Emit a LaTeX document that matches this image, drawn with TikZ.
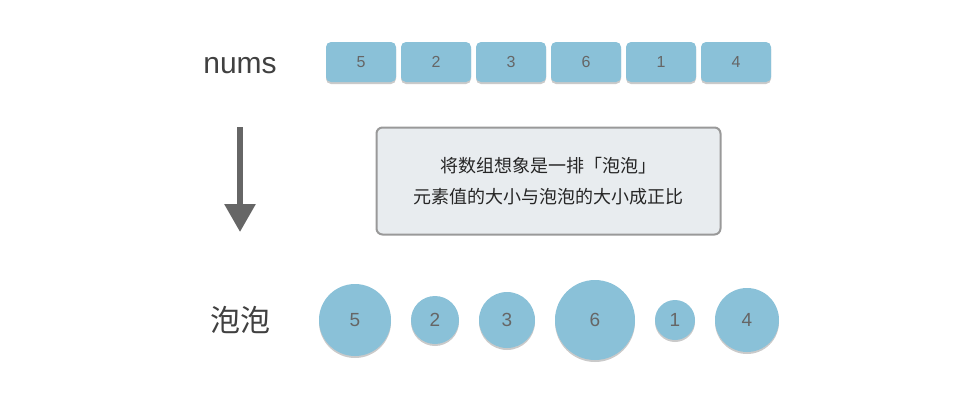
\documentclass[tikz,border=0pt]{standalone}
\usepackage{fontspec}
\setmainfont{Liberation Sans}
\newfontfamily\cjk{Noto Sans CJK SC}
\usepackage{tikz}
\usetikzlibrary{arrows.meta,shadows}

\definecolor{bubble}{HTML}{8AC1D8}
\definecolor{numtext}{HTML}{666666}
\definecolor{notefill}{HTML}{E8ECEF}
\definecolor{noteline}{HTML}{999999}
\definecolor{arrowgray}{HTML}{666666}

\tikzset{
  cell/.style={draw=none,fill=bubble,rounded corners=5pt,minimum width=70pt,minimum height=40pt,
    text=numtext,font=\fontsize{16}{16}\selectfont,
    drop shadow={shadow xshift=0pt,shadow yshift=-2pt,opacity=0.35,fill=black!60}},
  bub/.style={circle,draw=none,fill=bubble,inner sep=0pt,minimum size=#1,
    text=numtext,font=\fontsize{19}{19}\selectfont,
    drop shadow={shadow xshift=0pt,shadow yshift=-2pt,opacity=0.35,fill=black!60}},
  label/.style={text=black!75,font=\fontsize{30}{30}\selectfont}
}

\begin{document}
\begin{tikzpicture}[x=1pt,y=-1pt]
        \useasboundingbox (0,0) rectangle (980,400);
        \node[label,anchor=base] (nums) at (240,73) {nums};
        \node[cell] (n1) at (361,62) {5};
        \node[cell] (n2) at (436,62) {2};
        \node[cell] (n3) at (511,62) {3};
        \node[cell] (n4) at (586,62) {6};
        \node[cell] (n5) at (661,62) {1};
        \node[cell] (n6) at (736,62) {4};
        \coordinate (top) at (240,127);
        \coordinate (tip) at (240,232);
        \draw[arrowgray,line width=6pt,-{Triangle[length=28pt,width=30pt]}] (top)--(tip);
        \node[draw=noteline,line width=2pt,fill=notefill,rounded corners=6pt,minimum width=344pt,minimum height=107pt,
              align=center,text=black!85,font=\cjk\fontsize{18}{31}\selectfont] (note) at (548.5,181)
              {将数组想象是一排「泡泡」\\元素值的大小与泡泡的大小成正比};
        \node[label,font=\cjk\fontsize{30}{30}\selectfont] (pp) at (240,320) {泡泡};
        \node[bub=72pt] (b1) at (355,320) {5};
        \node[bub=48pt] (b2) at (435,320) {2};
        \node[bub=56pt] (b3) at (507,320) {3};
        \node[bub=80pt] (b4) at (595,320) {6};
        \node[bub=40pt] (b5) at (675,320) {1};
        \node[bub=64pt] (b6) at (747,320) {4};
    \end{tikzpicture}
\end{document}
